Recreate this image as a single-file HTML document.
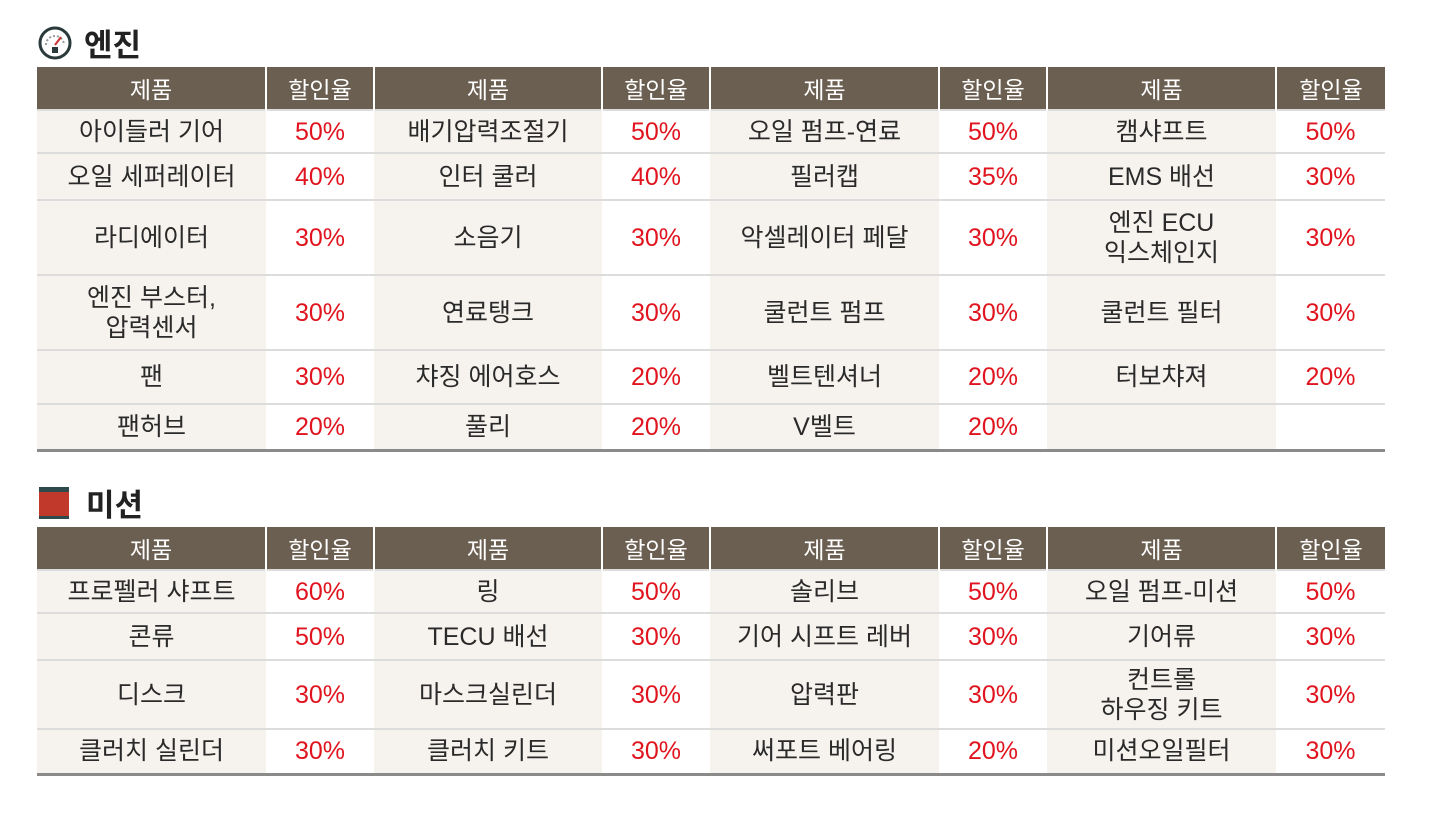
<!DOCTYPE html>
<html><head><meta charset="utf-8"><style>
body{margin:0;width:1440px;height:813px;background:#fff;font-family:"Liberation Sans","Noto Sans CJK KR",sans-serif;position:relative;overflow:hidden}
.title{position:absolute;left:38px;font-size:31px;font-weight:bold;color:#222;display:flex;align-items:center}
table{position:absolute;left:37px;border-collapse:collapse;table-layout:fixed;width:1348px}
th{background:#6b5f52;color:#fff;font-weight:normal;font-size:23px;height:42px;border-left:2px solid #fff;padding:0}
th:first-child{border-left:none}
td{text-align:center;font-size:25px;color:#2a2a2a;padding:0;border-top:2px solid #dcdcdc;line-height:30px}
td.p{background:#f6f3ee}
td.r{background:#fff;color:#e0141e;font-size:25px}
tr.last td{border-bottom:3px solid #8a8a8a}
</style></head><body>
<div class="title" style="top:20px"><svg width="34" height="34" viewBox="0 0 34 34" style="margin-right:12px"><circle cx="17" cy="17" r="15" fill="#fff" stroke="#2a3a3a" stroke-width="3"/><path d="M8 19 A9 9 0 0 1 26 19" fill="none" stroke="#999" stroke-width="2" stroke-dasharray="2 2"/><line x1="17" y1="19" x2="23" y2="11" stroke="#c33" stroke-width="2"/><rect x="14" y="21" width="6" height="6" fill="#2a3a3a"/></svg>엔진</div>
<table style="top:67px">
<colgroup><col style="width:229px"><col style="width:108px"><col style="width:228px"><col style="width:108px"><col style="width:229px"><col style="width:108px"><col style="width:229px"><col style="width:109px"></colgroup>
<tr><th>제품</th><th>할인율</th><th>제품</th><th>할인율</th><th>제품</th><th>할인율</th><th>제품</th><th>할인율</th></tr>
<tr style="height:43px"><td class="p">아이들러 기어</td><td class="r">50%</td><td class="p">배기압력조절기</td><td class="r">50%</td><td class="p">오일 펌프-연료</td><td class="r">50%</td><td class="p">캠샤프트</td><td class="r">50%</td></tr>
<tr style="height:47px"><td class="p">오일 세퍼레이터</td><td class="r">40%</td><td class="p">인터 쿨러</td><td class="r">40%</td><td class="p">필러캡</td><td class="r">35%</td><td class="p">EMS 배선</td><td class="r">30%</td></tr>
<tr style="height:75px"><td class="p">라디에이터</td><td class="r">30%</td><td class="p">소음기</td><td class="r">30%</td><td class="p">악셀레이터 페달</td><td class="r">30%</td><td class="p">엔진 ECU<br>익스체인지</td><td class="r">30%</td></tr>
<tr style="height:75px"><td class="p">엔진 부스터,<br>압력센서</td><td class="r">30%</td><td class="p">연료탱크</td><td class="r">30%</td><td class="p">쿨런트 펌프</td><td class="r">30%</td><td class="p">쿨런트 필터</td><td class="r">30%</td></tr>
<tr style="height:54px"><td class="p">팬</td><td class="r">30%</td><td class="p">챠징 에어호스</td><td class="r">20%</td><td class="p">벨트텐셔너</td><td class="r">20%</td><td class="p">터보챠져</td><td class="r">20%</td></tr>
<tr style="height:46px" class="last"><td class="p">팬허브</td><td class="r">20%</td><td class="p">풀리</td><td class="r">20%</td><td class="p">V벨트</td><td class="r">20%</td><td class="p"></td><td class="r"></td></tr>
</table>
<div class="title" style="top:480px"><svg width="32" height="34" viewBox="0 0 32 34" style="margin-right:16px"><rect x="1" y="4" width="30" height="29" fill="#c0392b"/><rect x="1" y="1" width="30" height="5" fill="#2f4a4a"/><rect x="1" y="30" width="30" height="3" fill="#2f4a4a"/></svg>미션</div>
<table style="top:527px">
<colgroup><col style="width:229px"><col style="width:108px"><col style="width:228px"><col style="width:108px"><col style="width:229px"><col style="width:108px"><col style="width:229px"><col style="width:109px"></colgroup>
<tr><th>제품</th><th>할인율</th><th>제품</th><th>할인율</th><th>제품</th><th>할인율</th><th>제품</th><th>할인율</th></tr>
<tr style="height:43px"><td class="p">프로펠러 샤프트</td><td class="r">60%</td><td class="p">링</td><td class="r">50%</td><td class="p">솔리브</td><td class="r">50%</td><td class="p">오일 펌프-미션</td><td class="r">50%</td></tr>
<tr style="height:47px"><td class="p">콘류</td><td class="r">50%</td><td class="p">TECU 배선</td><td class="r">30%</td><td class="p">기어 시프트 레버</td><td class="r">30%</td><td class="p">기어류</td><td class="r">30%</td></tr>
<tr style="height:69px"><td class="p">디스크</td><td class="r">30%</td><td class="p">마스크실린더</td><td class="r">30%</td><td class="p">압력판</td><td class="r">30%</td><td class="p">컨트롤<br>하우징 키트</td><td class="r">30%</td></tr>
<tr style="height:45px" class="last"><td class="p">클러치 실린더</td><td class="r">30%</td><td class="p">클러치 키트</td><td class="r">30%</td><td class="p">써포트 베어링</td><td class="r">20%</td><td class="p">미션오일필터</td><td class="r">30%</td></tr>
</table>
</body></html>
